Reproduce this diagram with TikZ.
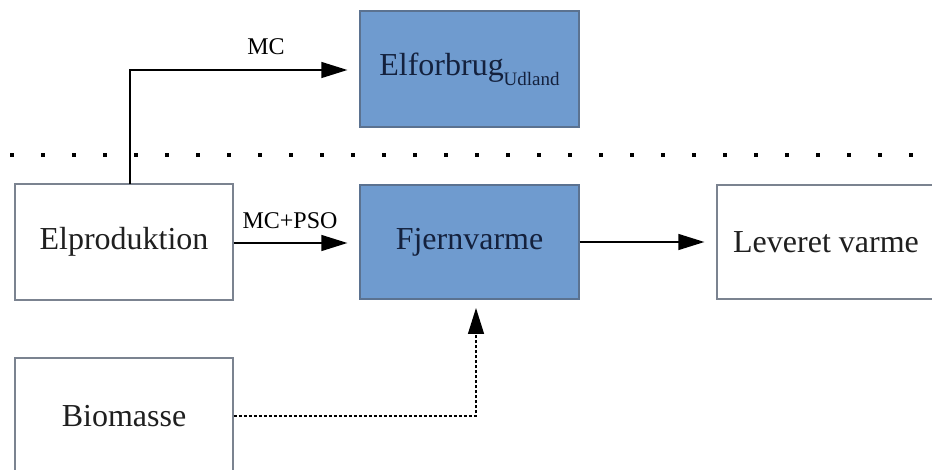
\documentclass[tikz,border=0pt]{standalone}
\usepackage{fontspec}
\setmainfont{Liberation Serif}
\usetikzlibrary{arrows.meta}
\definecolor{boxblue}{HTML}{6F9BCF}
\definecolor{blueedge}{HTML}{5B7290}
\definecolor{grayedge}{HTML}{7B8390}
\definecolor{navytext}{HTML}{14213D}
\begin{document}
\begin{tikzpicture}[x=1pt,y=-1pt,
  whitebox/.style={draw=grayedge,line width=1.3pt,fill=white,minimum width=218pt,minimum height=116pt,inner sep=0pt,font=\fontsize{32}{36}\selectfont,text=black!88},
  bluebox/.style={draw=blueedge,line width=1.3pt,fill=boxblue,minimum width=219pt,minimum height=116pt,inner sep=0pt,font=\fontsize{32}{36}\selectfont,text=navytext},
  flow/.style={line width=1.3pt,-{Triangle[length=26pt,width=16pt]},shorten >=12pt},
  dotflow/.style={line width=1.3pt,dash pattern=on 3pt off 2pt,-{Triangle[length=26pt,width=16pt]},shorten >=8pt},
  lbl/.style={font=\fontsize{24}{28}\selectfont,anchor=base,inner sep=0pt}]
\useasboundingbox (0,0) rectangle (932,470);
\fill[white] (0,0) rectangle (932,470);
% separator dots
\foreach \i in {0,...,29} \fill (10+31*\i,153) rectangle ++(4,4);
% boxes
\node[bluebox] (elf) at (469.5,69) {Elforbrug\raisebox{-10pt}{\fontsize{19}{22}\selectfont Udland}};
\node[whitebox] (elp) at (124,242) {Elproduktion};
\node[bluebox,minimum height=114pt] (fjv) at (469.5,242) {Fjernvarme};
\node[whitebox,minimum height=114pt] (lev) at (826,242) {Leveret varme};
\node[whitebox] (bio) at (124,416) {Biomasse};
% connectors
\coordinate (elptop) at (130,184);
\coordinate (fjvin) at (476,300);
\draw[flow] (elptop) |- (elf.west |- 0,70);
\draw[flow] (elp.east |- 0,243) -- (fjv.west |- 0,243);
\draw[flow] (fjv.east) -- (lev.west);
\draw[dotflow] (bio.east) -| (fjvin);
% labels
\node[lbl] (lmc) at (266,55) {MC};
\node[lbl] (lmcpso) at (290,229) {MC+PSO};
\end{tikzpicture}
\end{document}
